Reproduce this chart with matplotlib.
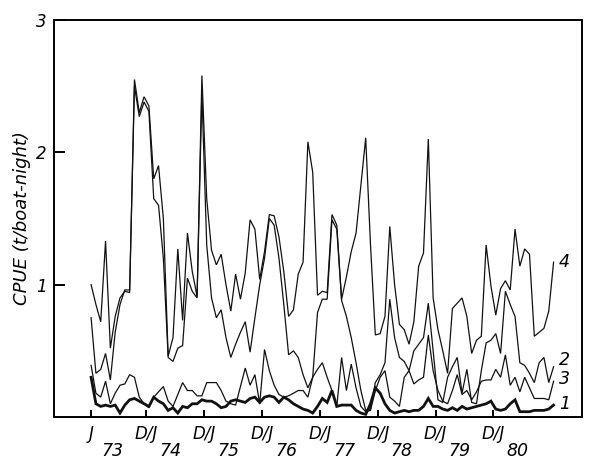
import numpy as np
import matplotlib
matplotlib.use("Agg")
import matplotlib.pyplot as plt
from matplotlib.transforms import blended_transform_factory

# months since Jan 1973
months = list(range(97))

s4 = [1.00, 0.85, 0.72, 1.33, 0.52, 0.76, 0.90, 0.95, 0.94, 2.55,
      2.30, 2.42, 2.35, 1.80, 1.90, 1.50, 0.46, 0.60, 1.27, 0.73,
      1.39, 1.10, 0.91, 2.58, 1.65, 1.26, 1.15, 1.23, 1.00, 0.80,
      1.08, 0.89, 1.09, 1.49, 1.42, 1.04, 1.25, 1.53, 1.52, 1.36,
      1.10, 0.76, 0.81, 1.08, 1.17, 2.08, 1.85, 0.92, 0.95, 0.94,
      1.53, 1.45, 0.89, 1.06, 1.25, 1.39, 1.75, 2.11, 1.30, 0.62,
      0.63, 0.76, 1.44, 1.00, 0.70, 0.66, 0.55, 0.72, 1.14, 1.24,
      2.10, 0.90, 0.66, 0.50, 0.33, 0.82, 0.86, 0.90, 0.76, 0.48,
      0.58, 0.61, 1.30, 0.99, 0.77, 0.97, 1.03, 0.96, 1.42, 1.14,
      1.27, 1.23, 0.61, 0.64, 0.67, 0.80, 1.17]

s2 = [0.75, 0.33, 0.36, 0.48, 0.28, 0.64, 0.85, 0.96, 0.96, 2.50,
      2.27, 2.38, 2.31, 1.65, 1.60, 1.20, 0.45, 0.42, 0.52, 0.54,
      1.05, 0.95, 0.90, 2.45, 1.30, 0.90, 0.75, 0.81, 0.60, 0.45,
      0.55, 0.64, 0.72, 0.49, 0.75, 1.00, 1.20, 1.50, 1.45, 1.20,
      0.85, 0.47, 0.50, 0.45, 0.32, 0.22, 0.30, 0.79, 0.89, 0.89,
      1.49, 1.42, 0.88, 0.76, 0.60, 0.41, 0.20, 0.05, 0.06, 0.26,
      0.32, 0.41, 0.89, 0.60, 0.45, 0.42, 0.35, 0.50, 0.55, 0.60,
      0.86, 0.50, 0.13, 0.11, 0.30, 0.38, 0.45, 0.18, 0.36, 0.11,
      0.10, 0.35, 0.56, 0.58, 0.63, 0.48, 0.95, 0.85, 0.76, 0.41,
      0.39, 0.33, 0.26, 0.41, 0.45, 0.26, 0.38]

s3 = [0.39, 0.18, 0.15, 0.27, 0.10, 0.18, 0.24, 0.25, 0.32, 0.30,
      0.15, 0.10, 0.07, 0.15, 0.19, 0.23, 0.12, 0.08, 0.17, 0.26,
      0.20, 0.20, 0.16, 0.16, 0.26, 0.26, 0.26, 0.20, 0.12, 0.10,
      0.09, 0.23, 0.37, 0.24, 0.32, 0.10, 0.51, 0.35, 0.24, 0.17,
      0.15, 0.16, 0.18, 0.20, 0.20, 0.15, 0.30, 0.36, 0.41, 0.30,
      0.20, 0.08, 0.45, 0.20, 0.40, 0.22, 0.08, 0.04, 0.05, 0.20,
      0.30, 0.35, 0.15, 0.12, 0.08, 0.30, 0.35, 0.25, 0.28, 0.30,
      0.62, 0.35, 0.20, 0.12, 0.10, 0.20, 0.32, 0.17, 0.20, 0.13,
      0.19, 0.27, 0.28, 0.28, 0.36, 0.30, 0.47, 0.24, 0.30, 0.19,
      0.30, 0.22, 0.14, 0.14, 0.14, 0.13, 0.27]

s1 = [0.30, 0.10, 0.08, 0.09, 0.08, 0.09, 0.03, 0.09, 0.13, 0.14,
      0.12, 0.10, 0.08, 0.15, 0.12, 0.10, 0.05, 0.07, 0.03, 0.08,
      0.07, 0.10, 0.10, 0.13, 0.12, 0.12, 0.10, 0.07, 0.08, 0.12,
      0.13, 0.12, 0.11, 0.14, 0.15, 0.11, 0.15, 0.16, 0.15, 0.11,
      0.15, 0.13, 0.10, 0.08, 0.06, 0.05, 0.03, 0.08, 0.14, 0.11,
      0.20, 0.08, 0.09, 0.09, 0.09, 0.05, 0.03, 0.02, 0.10, 0.22,
      0.18, 0.10, 0.05, 0.03, 0.04, 0.05, 0.04, 0.05, 0.05, 0.08,
      0.14, 0.08, 0.08, 0.06, 0.05, 0.07, 0.05, 0.08, 0.06, 0.07,
      0.08, 0.09, 0.10, 0.12, 0.06, 0.05, 0.06, 0.10, 0.13, 0.04,
      0.04, 0.04, 0.05, 0.05, 0.05, 0.06, 0.09]

tick_pos = [0, 11.5, 23.5, 35.5, 47.5, 59.5, 71.5, 83.5]
tick_labels = ["J", "D/J", "D/J", "D/J", "D/J", "D/J", "D/J", "D/J"]
year_pos = [4.5, 16.5, 28.5, 40.5, 52.5, 64.5, 76.5, 88.5]
year_labels = ["73", "74", "75", "76", "77", "78", "79", "80"]
series_names = ["1", "2", "3", "4"]
series_label_y = [0.10, 0.43, 0.29, 1.17]

plt.rcParams['font.family'] = ['DejaVu Sans']
fig = plt.figure(figsize=(6.0, 4.62), dpi=100)
ax = fig.add_axes([0.09, 0.0974, 0.88, 0.8593])

for s, lw in [(s4, 0.9), (s2, 0.9), (s3, 0.9), (s1, 2.0)]:
    ax.plot(months, s, color='#111111', lw=lw, solid_joinstyle='miter')

ax.set_xlim(-7.7, 101.9)
ax.set_ylim(0, 3)
ax.set_yticks([1, 2, 3])
ax.set_yticklabels(["1", "2", "3"], fontstyle='italic', fontsize=12)
ax.set_xticks(tick_pos)
ax.set_xticklabels(tick_labels, fontstyle='italic', fontsize=12)
ax.tick_params(axis='y', direction='in', length=8, width=1.4, pad=5)
ax.tick_params(axis='x', direction='in', length=5, width=1.4, pad=6)
for sp in ax.spines.values():
    sp.set_linewidth(1.4)

trans = blended_transform_factory(ax.transData, ax.transAxes)
for xp, lab in zip(year_pos, year_labels):
    ax.text(xp, -0.086, lab, transform=trans, ha='center', va='center',
            fontsize=12.5, fontstyle='italic')

for name, yv in zip(series_names, series_label_y):
    ax.text(98.3, yv, name, ha='center', va='center', fontsize=12.5,
            fontstyle='italic')

ax.set_ylabel("CPUE (t/boat-night)", fontstyle='italic', fontsize=13,
              labelpad=4)

fig.savefig("out.png", dpi=100)
